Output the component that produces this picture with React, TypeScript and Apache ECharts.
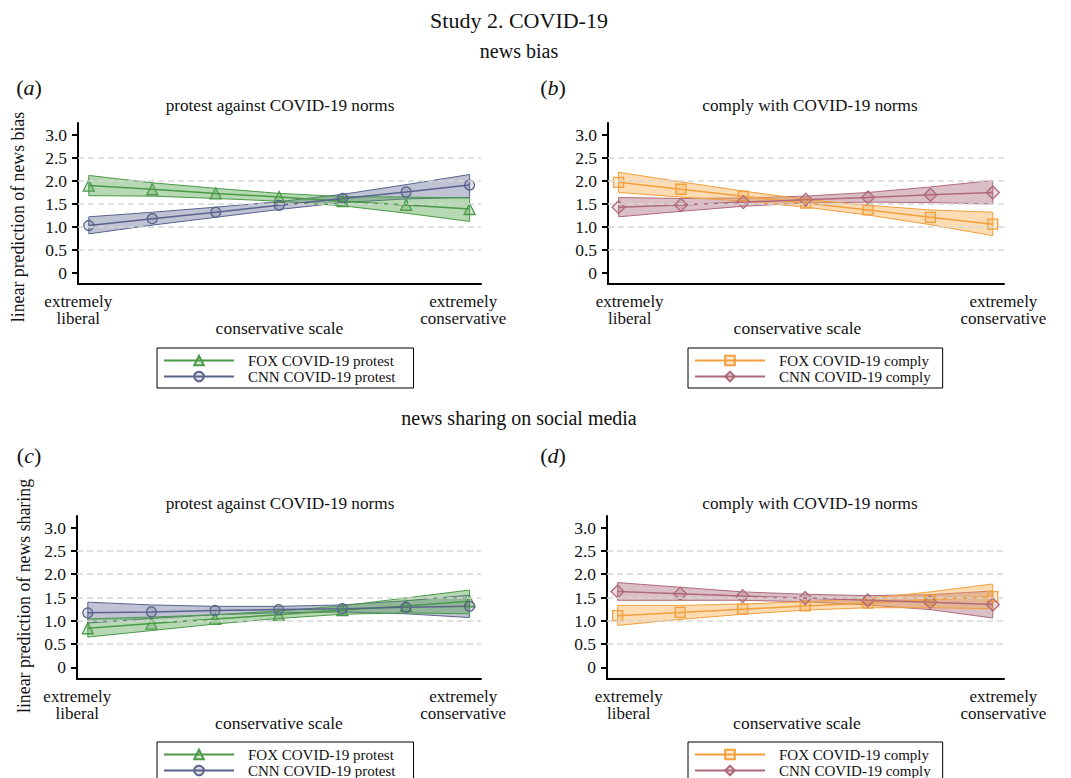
import React, { useEffect, useRef } from 'react';
import * as echarts from 'echarts';

const FONT = "'Liberation Serif', 'Times New Roman', Times, serif";
const TXT = '#111111';

// ---- data ----
const xValues = [1, 2, 3, 4, 5, 6, 7];
const yTicks = [0, 0.5, 1, 1.5, 2, 2.5, 3];
const gridValues = [0.5, 1, 1.5, 2, 2.5];

// (a) news bias – protest
const aFox = [1.89, 1.81, 1.72, 1.64, 1.55, 1.47, 1.38];
const aFoxLo = [1.67, 1.66, 1.61, 1.55, 1.45, 1.29, 1.11];
const aFoxHi = [2.11, 1.95, 1.83, 1.72, 1.65, 1.64, 1.62];
const aCnn = [1.02, 1.17, 1.31, 1.46, 1.61, 1.75, 1.9];
const aCnnLo = [0.84, 1.03, 1.2, 1.37, 1.52, 1.6, 1.63];
const aCnnHi = [1.21, 1.31, 1.42, 1.54, 1.7, 1.91, 2.13];

// (b) news bias – comply
const bFox = [1.96, 1.81, 1.66, 1.51, 1.36, 1.2, 1.05];
const bFoxLo = [1.74, 1.64, 1.55, 1.42, 1.25, 1.04, 0.8];
const bFoxHi = [2.18, 1.97, 1.77, 1.59, 1.46, 1.36, 1.31];
const bCnn = [1.42, 1.47, 1.53, 1.58, 1.63, 1.69, 1.74];
const bCnnLo = [1.21, 1.33, 1.44, 1.51, 1.53, 1.52, 1.49];
const bCnnHi = [1.63, 1.61, 1.62, 1.66, 1.74, 1.86, 2.0];

// (c) news sharing – protest
const cFox = [0.84, 0.94, 1.04, 1.13, 1.23, 1.32, 1.42];
const cFoxLo = [0.65, 0.79, 0.93, 1.05, 1.14, 1.17, 1.15];
const cFoxHi = [1.04, 1.08, 1.13, 1.21, 1.32, 1.49, 1.66];
const cCnn = [1.17, 1.19, 1.22, 1.24, 1.26, 1.29, 1.31];
const cCnnLo = [0.95, 1.05, 1.13, 1.17, 1.19, 1.15, 1.07];
const cCnnHi = [1.4, 1.34, 1.31, 1.31, 1.34, 1.43, 1.55];

// (d) news sharing – comply
const dFox = [1.11, 1.18, 1.25, 1.32, 1.38, 1.45, 1.52];
const dFoxLo = [0.9, 1.03, 1.14, 1.23, 1.28, 1.28, 1.26];
const dFoxHi = [1.33, 1.33, 1.36, 1.41, 1.48, 1.62, 1.79];
const dCnn = [1.63, 1.58, 1.53, 1.49, 1.44, 1.4, 1.35];
const dCnnLo = [1.44, 1.44, 1.44, 1.41, 1.34, 1.24, 1.06];
const dCnnHi = [1.82, 1.72, 1.62, 1.57, 1.54, 1.56, 1.64];

const NAME_FOX_P = 'FOX COVID-19 protest';
const NAME_CNN_P = 'CNN COVID-19 protest';
const NAME_FOX_C = 'FOX COVID-19 comply';
const NAME_CNN_C = 'CNN COVID-19 comply';

const GREEN = { line: '#4a9a48', fill: 'rgba(80,165,75,0.42)', mk: 'rgba(80,165,75,0.25)' };
const SLATE = { line: '#59638c', fill: 'rgba(88,98,140,0.38)', mk: 'rgba(88,98,140,0.2)' };
const ORANGE = { line: '#f0a03c', fill: 'rgba(246,168,70,0.4)', mk: 'rgba(246,168,70,0.25)' };
const MAUVE = { line: '#b06a7a', fill: 'rgba(165,95,112,0.4)', mk: 'rgba(165,95,112,0.2)' };

type Col = { line: string; fill: string; mk: string };

function bandSeries(gi: number, lo: number[], hi: number[], col: Col) {
  return {
    type: 'custom',
    xAxisIndex: gi,
    yAxisIndex: gi,
    z: 1,
    silent: true,
    data: xValues.map((x, i) => [x, lo[i], hi[i]]),
    encode: { x: 0, y: [1, 2] },
    renderItem: (params: any, api: any) => {
      if (params.dataIndex !== 0) return { type: 'group', children: [] };
      const pts: number[][] = [];
      for (let i = 0; i < xValues.length; i++) pts.push(api.coord([xValues[i], hi[i]]));
      for (let i = xValues.length - 1; i >= 0; i--) pts.push(api.coord([xValues[i], lo[i]]));
      return {
        type: 'polygon',
        shape: { points: pts },
        style: { fill: col.fill, stroke: col.line, lineWidth: 1 },
      };
    },
  };
}

function lineSeries(gi: number, name: string, vals: number[], col: Col, symbol: string, size: number) {
  return {
    type: 'line',
    name,
    xAxisIndex: gi,
    yAxisIndex: gi,
    z: 3,
    data: xValues.map((x, i) => [x, vals[i]]),
    symbol,
    symbolSize: size,
    showAllSymbol: true,
    lineStyle: { color: col.line, width: 1.5 },
    itemStyle: { color: col.mk, borderColor: col.line, borderWidth: 1.3 },
  };
}

function gridSeries(gi: number) {
  return {
    type: 'line',
    xAxisIndex: gi,
    yAxisIndex: gi,
    z: 0,
    silent: true,
    data: [],
    markLine: {
      silent: true,
      symbol: 'none',
      label: { show: false },
      lineStyle: { color: '#d6d6d6', type: [6, 4], width: 1.5 },
      data: gridValues.map((v) => ({ yAxis: v })),
    },
  };
}

const grids = [
  { left: 78, top: 123, width: 403, height: 161 },
  { left: 608, top: 123, width: 396, height: 161 },
  { left: 77, top: 516, width: 404, height: 163 },
  { left: 607, top: 516, width: 397, height: 163 },
];

const xLabelVals = [
  [0.835, 6.9],
  [1.177, 7.17],
  [0.835, 6.9],
  [1.177, 7.17],
];
const xNamePad = [
  [0, 0, 0, 0],
  [0, 17, 0, 0],
  [0, 0, 0, 0],
  [0, 17, 0, 0],
];

function xAxis(gi: number) {
  return {
    type: 'value',
    gridIndex: gi,
    min: 0.83,
    max: 7.18,
    axisLine: { show: true, onZero: false, lineStyle: { color: '#000', width: 2 } },
    axisTick: { show: false },
    splitLine: { show: false },
    axisLabel: {
      customValues: xLabelVals[gi],
      formatter: (v: number) => (v < 4 ? 'extremely\nliberal' : 'extremely\nconservative'),
      fontFamily: FONT,
      fontSize: 17,
      lineHeight: 17,
      color: TXT,
      margin: 9,
    },
    name: 'conservative scale',
    nameLocation: 'middle',
    nameGap: 35,
    nameMoveOverlap: false,
    nameTextStyle: { fontFamily: FONT, fontSize: 17.5, color: TXT, padding: xNamePad[gi] },
  };
}

function yAxis(gi: number) {
  return {
    type: 'value',
    gridIndex: gi,
    min: -0.25,
    max: 3.25,
    axisLine: { show: true, lineStyle: { color: '#000', width: 2 } },
    axisTick: { show: true, length: 6, lineStyle: { color: '#000', width: 2 }, customValues: yTicks },
    splitLine: { show: false },
    axisLabel: {
      customValues: yTicks,
      formatter: (v: number) => (v === 0 ? '0' : v.toFixed(1)),
      fontFamily: FONT,
      fontSize: 17.5,
      color: TXT,
      margin: 11,
    },
  };
}

function legend(left: number, top: number, names: string[], padRight: number) {
  return {
    left,
    top,
    height: 120,
    width: 400,
    orient: 'vertical',
    data: names,
    selectedMode: false,
    itemWidth: 70,
    itemHeight: 12,
    itemGap: 1,
    borderColor: '#000',
    borderWidth: 1,
    borderRadius: 0,
    padding: [5, padRight, 4, 6],
    textStyle: { fontFamily: FONT, fontSize: 15, color: TXT, padding: [0, 0, 0, 9] },
  };
}

function txt(text: string, x: number, y: number, size: number, extra: any = {}) {
  return {
    type: 'text',
    x,
    y,
    silent: true,
    ...extra,
    style: { text, fontFamily: FONT, fontSize: size, fill: TXT, align: 'center', verticalAlign: 'middle' },
  };
}

function letter(l: string, x: number, y: number) {
  return {
    type: 'text',
    x,
    y,
    silent: true,
    style: {
      text: `{p|(}{i|${l}}{p|)}`,
      align: 'center',
      verticalAlign: 'middle',
      rich: {
        p: { fontFamily: FONT, fontSize: 22, fill: TXT },
        i: { fontFamily: FONT, fontSize: 22, fontStyle: 'italic', fill: TXT },
      },
    },
  };
}

export default function App() {
  const ref = useRef<HTMLDivElement>(null);
  useEffect(() => {
    if (!ref.current) return;
    const chart = echarts.init(ref.current, undefined, { renderer: 'svg' });
    const option: any = {
      animation: false,
      backgroundColor: '#ffffff',
      textStyle: { fontFamily: FONT, color: TXT },
      grid: grids,
      xAxis: [0, 1, 2, 3].map(xAxis),
      yAxis: [0, 1, 2, 3].map(yAxis),
      legend: [
        legend(157, 348, [NAME_FOX_P, NAME_CNN_P], 18),
        legend(688, 348, [NAME_FOX_C, NAME_CNN_C], 12),
        legend(157, 742, [NAME_FOX_P, NAME_CNN_P], 18),
        legend(688, 742, [NAME_FOX_C, NAME_CNN_C], 12),
      ],
      graphic: [
        txt('Study 2. COVID-19', 519, 20, 22),
        txt('news bias', 519, 51, 20),
        txt('news sharing on social media', 519, 418, 20),
        letter('a', 29, 87),
        letter('b', 553, 87),
        letter('c', 29, 455),
        letter('d', 553, 455),
        txt('protest against COVID-19 norms', 280, 105, 17.2),
        txt('comply with COVID-19 norms', 810, 105, 17.2),
        txt('protest against COVID-19 norms', 280, 503, 17.2),
        txt('comply with COVID-19 norms', 810, 503, 17.2),
        txt('linear prediction of news bias', 17.5, 217, 17.8, { rotation: Math.PI / 2 }),
        txt('linear prediction of news sharing', 23.5, 596, 17.8, { rotation: Math.PI / 2 }),
      ],
      series: [
        gridSeries(0),
        gridSeries(1),
        gridSeries(2),
        gridSeries(3),
        bandSeries(0, aCnnLo, aCnnHi, SLATE),
        bandSeries(0, aFoxLo, aFoxHi, GREEN),
        lineSeries(0, NAME_FOX_P, aFox, GREEN, 'triangle', 11),
        lineSeries(0, NAME_CNN_P, aCnn, SLATE, 'circle', 10),
        bandSeries(1, bCnnLo, bCnnHi, MAUVE),
        bandSeries(1, bFoxLo, bFoxHi, ORANGE),
        lineSeries(1, NAME_FOX_C, bFox, ORANGE, 'rect', 10),
        lineSeries(1, NAME_CNN_C, bCnn, MAUVE, 'diamond', 13),
        bandSeries(2, cCnnLo, cCnnHi, SLATE),
        bandSeries(2, cFoxLo, cFoxHi, GREEN),
        lineSeries(2, NAME_FOX_P, cFox, GREEN, 'triangle', 11),
        lineSeries(2, NAME_CNN_P, cCnn, SLATE, 'circle', 10),
        bandSeries(3, dCnnLo, dCnnHi, MAUVE),
        bandSeries(3, dFoxLo, dFoxHi, ORANGE),
        lineSeries(3, NAME_FOX_C, dFox, ORANGE, 'rect', 10),
        lineSeries(3, NAME_CNN_C, dCnn, MAUVE, 'diamond', 13),
      ],
    };
    chart.setOption(option);
    return () => chart.dispose();
  }, []);
  return (
    <div
      ref={ref}
      style={{ position: 'absolute', left: 0, top: 0, width: 1071, height: 778, background: '#fff' }}
    />
  );
}
